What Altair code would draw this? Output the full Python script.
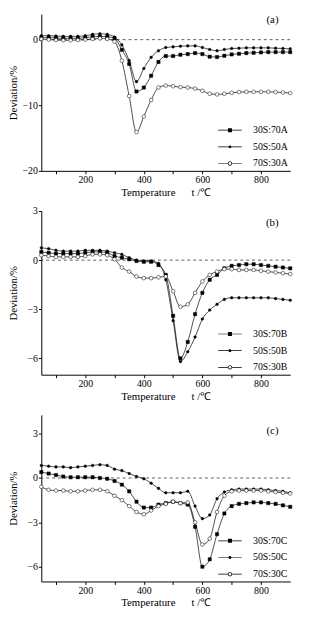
import altair as alt
import pandas as pd

T = [50, 75, 100, 125, 150, 175, 200, 225, 250, 275, 300, 325, 350, 375, 400, 425, 450,
     475, 500, 525, 550, 575, 600, 625, 650, 675, 700, 725, 750, 775, 800, 825, 850, 875, 900]

names_a = ["30S:70A", "50S:50A", "70S:30A"]
a_30 = [0.3, 0.3, 0.25, 0.2, 0.2, 0.2, 0.3, 0.45, 0.5, 0.45, 0.2, -1.55, -3.7, -7.9, -7.3, -5.5, -3.4,
        -2.5, -2.5, -2.3, -2.2, -2.05, -2.2, -2.6, -2.65, -2.45, -2.25, -2.15, -2.05, -2.0, -1.95, -1.9, -1.9, -1.9, -1.9]
a_50 = [0.6, 0.6, 0.55, 0.5, 0.5, 0.5, 0.6, 0.8, 0.9, 0.8, 0.4, -0.8, -3.2, -6.4, -4.4, -2.7, -1.7,
        -1.2, -1.1, -1.0, -0.95, -0.95, -1.2, -1.5, -1.7, -1.5, -1.35, -1.3, -1.25, -1.25, -1.25, -1.25, -1.3, -1.35, -1.4]
a_70 = [0.1, 0.0, -0.05, -0.1, -0.1, -0.05, 0.0, 0.1, 0.2, 0.1, -0.3, -3.2, -8.6, -14.1, -11.7, -9.2, -7.3,
        -7.0, -7.1, -7.25, -7.3, -7.45, -7.8, -8.25, -8.35, -8.25, -8.1, -8.0, -7.95, -7.95, -7.95, -7.95, -8.0, -8.05, -8.15]

names_b = ["30S:70B", "50S:50B", "70S:30B"]
b_30 = [0.5, 0.45, 0.4, 0.4, 0.4, 0.4, 0.45, 0.5, 0.5, 0.45, 0.25, 0.15, 0.05, -0.05, -0.1, -0.1, -0.3,
        -0.9, -3.4, -6.0, -5.0, -3.3, -2.0, -1.2, -0.9, -0.5, -0.35, -0.3, -0.25, -0.25, -0.3, -0.35, -0.4, -0.45, -0.5]
b_50 = [0.75, 0.7, 0.6, 0.55, 0.55, 0.55, 0.6, 0.6, 0.6, 0.55, 0.45, 0.35, 0.15, 0.0, -0.05, -0.05, -0.2,
        -1.2, -3.7, -6.2, -5.6, -4.7, -3.6, -3.05, -2.7, -2.4, -2.3, -2.3, -2.3, -2.3, -2.3, -2.3, -2.35, -2.4, -2.45]
b_70 = [0.3, 0.25, 0.2, 0.2, 0.2, 0.2, 0.25, 0.35, 0.35, 0.3, 0.05, -0.45, -0.7, -1.0, -1.1, -1.1, -1.05,
        -1.0, -1.9, -2.85, -2.7, -2.0, -1.3, -0.9, -0.7, -0.55, -0.55, -0.6, -0.6, -0.6, -0.65, -0.7, -0.75, -0.8, -0.85]

names_c = ["30S:70C", "50S:50C", "70S:30C"]
c_30 = [0.4, 0.3, 0.2, 0.1, 0.05, 0.05, 0.05, 0.05, 0.0, -0.05, -0.2, -0.45, -0.9, -1.6, -2.0, -2.0, -1.8,
        -1.7, -1.6, -1.7, -1.8, -3.3, -6.0, -5.5, -3.8, -2.4, -1.9, -1.75, -1.7, -1.65, -1.65, -1.7, -1.75, -1.85, -1.95]
c_50 = [0.85, 0.8, 0.75, 0.75, 0.7, 0.75, 0.8, 0.85, 0.9, 0.85, 0.6, 0.5, 0.3, 0.1, -0.05, -0.35, -0.7,
        -1.0, -1.0, -1.0, -0.9, -1.9, -2.75, -2.5, -1.4, -0.95, -0.8, -0.75, -0.75, -0.75, -0.75, -0.8, -0.85, -0.9, -1.0]
c_70 = [-0.6, -0.8, -0.85, -0.85, -0.9, -0.9, -0.85, -0.8, -0.8, -0.9, -1.2, -1.5, -1.9, -2.3, -2.45, -2.2, -1.9,
        -1.75, -1.6, -1.7, -1.65, -3.0, -4.5, -4.1, -2.3, -1.2, -0.9, -0.85, -0.85, -0.85, -0.85, -0.9, -0.95, -1.0, -1.05]

FONT = "Liberation Serif"
W = 254

marker_shapes = ["square", "circle", "circle"]
marker_fills = ["black", "black", "white"]
marker_sizes = [11, 7, 14]

# legend symbols: thin bar (line) with the marker on it; all filled areas
BAR_L = "M-2.4,-0.07H-0.44V0.07H-2.4Z"
BAR_R = "M0.44,-0.07H2.4V0.07H0.44Z"
BAR_FULL = "M-2.4,-0.07H2.4V0.07H-2.4Z"
path_sq = BAR_FULL + "M-0.4,-0.4H0.4V0.4H-0.4Z"
path_dot = BAR_FULL + "M-0.3,0A0.3,0.3,0,1,1,0.3,0A0.3,0.3,0,1,1,-0.3,0Z"
path_ring = (BAR_L + BAR_R + "M-0.44,0A0.44,0.44,0,1,1,0.44,0A0.44,0.44,0,1,1,-0.44,0Z"
             "M-0.3,0A0.3,0.3,0,1,0,0.3,0A0.3,0.3,0,1,0,-0.3,0Z")

NB = "\u00a0"


def panel(names, series, ydom, yticks, ylabels, height, tag, tag_y):
    rows = []
    for nm, vals in zip(names, series):
        for t, v in zip(T, vals):
            rows.append({"T": t, "v": v, "s": nm, "lg": nm})
    df = pd.DataFrame(rows)
    lab_expr = "indexof([" + ",".join(str(v) for v in ylabels) + "], datum.value) >= 0 ? datum.label : ''"
    x = alt.X("T:Q", scale=alt.Scale(domain=[50, 900], nice=False, zero=False),
              axis=alt.Axis(values=[100, 200, 300, 400, 500, 600, 700, 800],
                            labelExpr="datum.value % 200 == 0 ? datum.label : ''",
                            title="Temperature" + NB * 6 + "t" + NB + "/℃"))
    y = alt.Y("v:Q", scale=alt.Scale(domain=ydom, nice=False, zero=False),
              axis=alt.Axis(values=yticks, labelExpr=lab_expr, title="Deviation/%",
                            minExtent=14, maxExtent=14, titlePadding=9))
    base = alt.Chart(df)
    zero = alt.Chart(pd.DataFrame({"v": [0]})).mark_rule(
        strokeDash=[3, 3], color="#333", strokeWidth=0.8).encode(y="v:Q")
    lines = base.mark_line(interpolate="monotone", color="black", strokeWidth=0.7).encode(
        x=x, y=y, detail="s:N")
    pts = []
    for nm, shp, fc, sz in zip(names, marker_shapes, marker_fills, marker_sizes):
        pts.append(base.transform_filter(alt.datum.s == nm).mark_point(
            shape=shp, fill=fc, stroke="black", strokeWidth=0.5, size=sz, opacity=1, fillOpacity=1
        ).encode(x=x, y=y))
    leg = base.mark_point(opacity=0, filled=True, fill="black", stroke="black", strokeWidth=0.6).encode(
        x=x, y=y,
        shape=alt.Shape("lg:N", scale=alt.Scale(domain=names, range=[path_sq, path_dot, path_ring]),
                        legend=alt.Legend(orient="bottom-right", title=None, offset=2,
                                          labelFont=FONT, labelFontSize=10, labelColor="black",
                                          symbolSize=100, symbolOpacity=1, symbolFillColor="black",
                                          symbolStrokeColor="black", symbolStrokeWidth=0.4,
                                          rowPadding=6, labelOffset=18, padding=0)),
    )
    txt = alt.Chart(pd.DataFrame({"t": [tag]})).mark_text(
        font=FONT, fontSize=11, align="right", baseline="middle", color="black").encode(
        text="t:N", x=alt.value(W - 12), y=alt.value(tag_y))
    return alt.layer(zero, lines, *pts, leg, txt).properties(width=W, height=height)


pa = panel(names_a, [a_30, a_50, a_70], [-20, 3.9], [-20, -15, -10, -5, 0], [-20, -10, 0], 160, "(a)", 6)
pb = panel(names_b, [b_30, b_50, b_70], [-7, 3], [-6, -4.5, -3, -1.5, 0, 1.5, 3], [-6, -3, 0, 3], 167, "(b)", 12)
pc = panel(names_c, [c_30, c_50, c_70], [-7, 4.27], [-6, -4.5, -3, -1.5, 0, 1.5, 3], [-6, -3, 0, 3], 170, "(c)", 17)

chart = alt.vconcat(pa, pb, pc, spacing=41, bounds="flush").resolve_scale(
    shape="independent").resolve_legend(shape="independent").properties(
    padding={"left": 0, "top": 0, "right": 5, "bottom": 0}
).configure_view(stroke=None).configure_axis(
    labelFont=FONT, labelFontSize=10, labelColor="black",
    titleFont=FONT, titleFontSize=11, titleFontWeight="normal", titleColor="black",
    domainColor="black", tickColor="black", tickSize=3, labelPadding=1, grid=False,
).configure_axisX(titlePadding=2)

chart.save("out.html", embed_options={"renderer": "svg", "actions": False})
